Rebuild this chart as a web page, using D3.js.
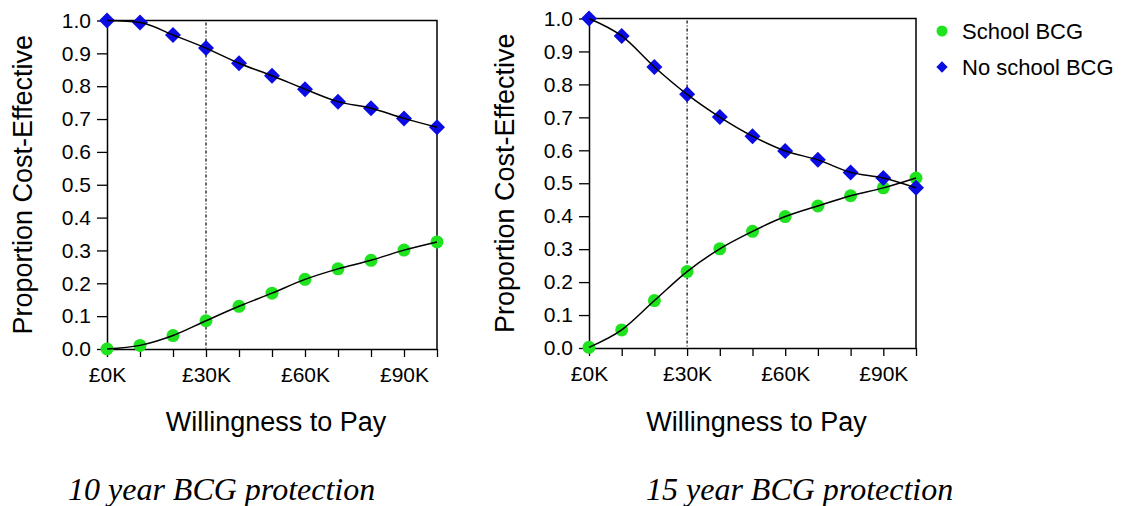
<!DOCTYPE html>
<html>
<head>
<meta charset="utf-8">
<script src="https://cdn.jsdelivr.net/npm/d3@7"></script>
<style>
  html, body { margin: 0; padding: 0; background: #fff; }
  svg { display: block; }
  .tick text { font-family: "Liberation Sans", Arial, sans-serif; fill: #000; }
</style>
</head>
<body>
<svg id="chart" width="1124" height="506"></svg>
<script>
// Willingness-to-pay thresholds (£ thousands)
const wtp = [0, 10, 20, 30, 40, 50, 60, 70, 80, 90, 100];

// 10 year BCG protection
const school10   = [0.000, 0.011, 0.041, 0.086, 0.130, 0.170, 0.212, 0.244, 0.270, 0.301, 0.326];
const noSchool10 = [1.000, 0.994, 0.956, 0.916, 0.870, 0.832, 0.791, 0.753, 0.733, 0.702, 0.675];

// 15 year BCG protection
const school15   = [0.002, 0.055, 0.144, 0.232, 0.301, 0.354, 0.399, 0.431, 0.462, 0.486, 0.516];
const noSchool15 = [1.000, 0.947, 0.853, 0.770, 0.701, 0.643, 0.598, 0.571, 0.533, 0.516, 0.486];

const xTicks = [0, 30, 60, 90];
const yTicks = [0, 0.1, 0.2, 0.3, 0.4, 0.5, 0.6, 0.7, 0.8, 0.9, 1.0];
const threshold = 30;

const seriesNames = ["School BCG", "No school BCG"];
const captions = ["10 year BCG protection", "15 year BCG protection"];

const GREEN = "#1fe31f";
const BLUE = "#0b0be3";
const SANS = "'Liberation Sans', Arial, sans-serif";
const SERIF = "'Liberation Serif', 'Times New Roman', serif";

const svg = d3.select("#chart");

const panels = [
  { frame: { left: 107, right: 437, top: 20.5, bottom: 349 }, school: school10, noSchool: noSchool10, caption: captions[0], capX: 68 },
  { frame: { left: 589, right: 916, top: 18.5, bottom: 348 }, school: school15, noSchool: noSchool15, caption: captions[1], capX: 646 }
];

const diamond = d3.symbol().type(d3.symbolSquare);

function drawPanel(p) {
  const f = p.frame;
  const x = d3.scaleLinear().domain([0, 100]).range([f.left, f.right]);
  const y = d3.scaleLinear().domain([0, 1]).range([f.bottom, f.top]);
  const g = svg.append("g");

  // box: top and right edges
  g.append("path")
    .attr("d", `M${x(0)},${y(1)}H${x(100)}V${y(0)}`)
    .attr("fill", "none").attr("stroke", "#000").attr("stroke-width", 1.5);

  // x axis
  const xAxis = g.append("g").attr("transform", `translate(0,${y(0)})`)
    .call(d3.axisBottom(x).tickValues(wtp).tickSize(8).tickPadding(10)
      .tickFormat(d => xTicks.includes(d) ? `£${d}K` : "")
      .tickSizeOuter(0));
  xAxis.selectAll("text").style("font-size", "21px").style("font-family", SANS);

  // y axis
  const yAxis = g.append("g").attr("transform", `translate(${x(0)},0)`)
    .call(d3.axisLeft(y).tickValues(yTicks).tickSize(10).tickPadding(6)
      .tickFormat(d3.format(".1f")).tickSizeOuter(0));
  yAxis.selectAll("text").style("font-size", "21px").style("font-family", SANS);
  [xAxis, yAxis].forEach(a => {
    a.select(".domain").attr("stroke", "#000").attr("stroke-width", 1.5);
    a.selectAll(".tick line").attr("stroke", "#000").attr("stroke-width", 1.3);
  });

  // threshold line at £30K
  g.append("line")
    .attr("x1", x(threshold)).attr("x2", x(threshold))
    .attr("y1", y(1) + 2).attr("y2", y(0))
    .attr("stroke", "#000").attr("stroke-width", 1.2)
    .attr("stroke-dasharray", "3,2,1,2");

  const line = d3.line().x((d, i) => x(wtp[i])).y(d => y(d)).curve(d3.curveMonotoneX);

  // markers
  g.append("g").selectAll("circle").data(p.school).join("circle")
    .attr("cx", (d, i) => x(wtp[i])).attr("cy", d => y(d)).attr("r", 6.5)
    .attr("fill", GREEN);
  g.append("g").selectAll("path").data(p.noSchool).join("path")
    .attr("d", diamond.size(128))
    .attr("transform", (d, i) => `translate(${x(wtp[i])},${y(d)}) rotate(45)`)
    .attr("fill", BLUE);

  // fitted curves
  [p.school, p.noSchool].forEach(s => {
    g.append("path").datum(s).attr("d", line)
      .attr("fill", "none").attr("stroke", "#000").attr("stroke-width", 1.5);
  });

  // axis titles
  g.append("text")
    .attr("transform", `translate(${f.left - 75},${(f.top + f.bottom) / 2}) rotate(-90)`)
    .attr("text-anchor", "middle")
    .style("font-family", SANS).style("font-size", "27px")
    .text("Proportion Cost-Effective");
  g.append("text")
    .attr("x", (f.left + f.right) / 2 + 4).attr("y", 431)
    .attr("text-anchor", "middle")
    .style("font-family", SANS).style("font-size", "27px")
    .text("Willingness to Pay");

  // caption
  g.append("text")
    .attr("x", p.capX).attr("y", 500)
    .style("font-family", SERIF).style("font-style", "italic").style("font-size", "32px")
    .text(p.caption);
}

panels.forEach(drawPanel);

// legend
const legend = svg.append("g").attr("transform", "translate(942,0)");
legend.append("circle").attr("cx", 0).attr("cy", 31).attr("r", 5.5).attr("fill", GREEN);
legend.append("path").attr("d", diamond.size(64))
  .attr("transform", "translate(0,67) rotate(45)").attr("fill", BLUE);
legend.selectAll("text").data(seriesNames).join("text")
  .attr("x", 20).attr("y", (d, i) => 38.5 + i * 36)
  .style("font-family", SANS).style("font-size", "22px")
  .text(d => d);
</script>
</body>
</html>
